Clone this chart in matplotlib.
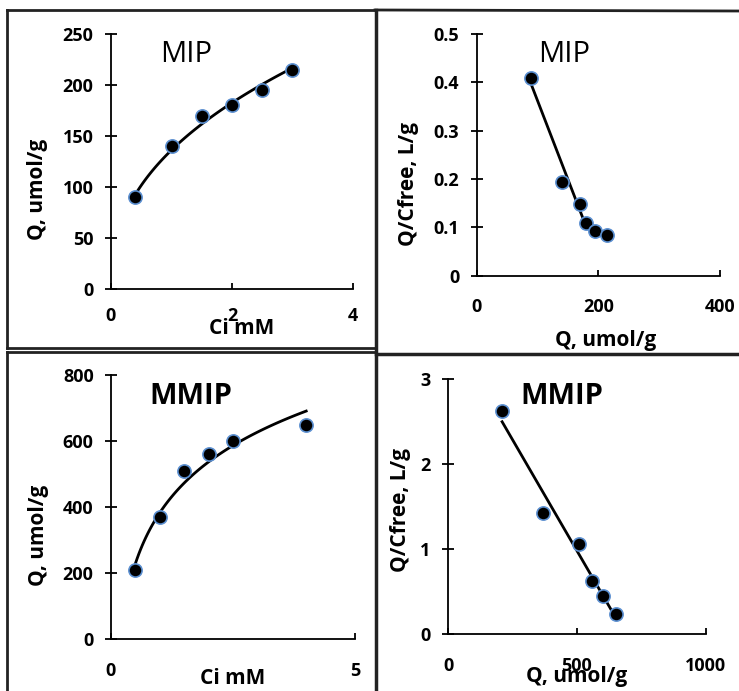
import numpy as np
import matplotlib
matplotlib.use("Agg")
import matplotlib.pyplot as plt
from matplotlib.lines import Line2D

plt.rcParams['font.family'] = ['Open Sans', 'DejaVu Sans']

# data
mip_ci = [0.4, 1.0, 1.5, 2.0, 2.5, 3.0]
mip_q = [90, 140, 170, 180, 195, 215]
mip_qc = [0.41, 0.194, 0.148, 0.110, 0.093, 0.084]

mmip_ci = [0.5, 1.0, 1.5, 2.0, 2.5, 4.0]
mmip_q = [210, 370, 510, 560, 600, 650]
mmip_qc = [2.62, 1.42, 1.06, 0.63, 0.454, 0.239]

W, H = 739, 691
fig = plt.figure(figsize=(W / 100, H / 100), dpi=100)

TICK_FS = 13
LAB_FS = 15


def px(l, t, r, b):
    # pixel box -> figure fraction rect
    return [l / W, 1 - b / H, (r - l) / W, (b - t) / H]


def style(ax, xlim, xticks, ylim, yticks, pad, ylabels=None):
    ax.set_xlim(*xlim)
    ax.set_ylim(*ylim)
    ax.set_xticks(xticks)
    ax.set_yticks(yticks)
    if ylabels is not None:
        ax.set_yticklabels(ylabels)
    for s in ['top', 'right']:
        ax.spines[s].set_visible(False)
    for s in ['left', 'bottom']:
        ax.spines[s].set_linewidth(1.3)
        ax.spines[s].set_clip_on(False)
    ax.tick_params(axis='y', direction='inout', length=9, width=1.3, pad=8)
    ax.tick_params(axis='x', direction='in', length=4, width=1.3, pad=pad)
    for lab in ax.get_xticklabels() + ax.get_yticklabels():
        lab.set_fontweight('bold')
        lab.set_fontsize(TICK_FS)


def dots(ax, x, y):
    ax.plot(x, y, 'o', color='black', markersize=9.5, markeredgecolor='#5b8fd0',
            markeredgewidth=1.2, zorder=3, clip_on=False)


def labels(ax, xl, xc, yl, yc):
    ax.set_xlabel(xl, fontsize=LAB_FS, fontweight='bold')
    ax.xaxis.set_label_coords(*xc)
    ax.set_ylabel(yl, fontsize=LAB_FS, fontweight='bold')
    ax.yaxis.set_label_coords(*yc)


# top left: MIP isotherm
ax1 = fig.add_axes(px(111, 34, 353, 289))
style(ax1, (0, 4), [0, 2, 4], (0, 250), [0, 50, 100, 150, 200, 250], 13)
n, lnk = np.polyfit(np.log(mip_ci), np.log(mip_q), 1)
xs = np.linspace(min(mip_ci), max(mip_ci), 100)
ax1.plot(xs, np.exp(lnk) * xs ** n, color='black', lw=2)
dots(ax1, mip_ci, mip_q)
ax1.text(0.31, 0.92, 'MIP', transform=ax1.transAxes, fontsize=21, ha='center', va='center')
labels(ax1, 'Ci mM', (0.54, -0.115), 'Q, umol/g', (-0.26, 0.39))

# top right: MIP Scatchard
ax2 = fig.add_axes(px(476.7, 34, 720, 275.7))
style(ax2, (0, 400), [0, 200, 400], (0, 0.5), [0, 0.1, 0.2, 0.3, 0.4, 0.5], 16,
      ['0', '0.1', '0.2', '0.3', '0.4', '0.5'])
m, c = np.polyfit(mip_q[:4], mip_qc[:4], 1)
xs = np.array([mip_q[0], mip_q[3] - 6])
ax2.plot(xs, m * xs + c, color='black', lw=2)
dots(ax2, mip_q, mip_qc)
ax2.text(0.36, 0.917, 'MIP', transform=ax2.transAxes, fontsize=21, ha='center', va='center')
labels(ax2, 'Q, umol/g', (0.53, -0.225), 'Q/Cfree, L/g', (-0.237, 0.38))

# bottom left: MMIP isotherm
ax3 = fig.add_axes(px(111, 375, 355, 639.3))
style(ax3, (0, 5), [0, 5], (0, 800), [0, 200, 400, 600, 800], 16)
b, a = np.polyfit(np.log(mmip_ci), mmip_q, 1)
xs = np.linspace(min(mmip_ci), max(mmip_ci), 100)
ax3.plot(xs, a + b * np.log(xs), color='black', lw=2)
dots(ax3, mmip_ci, mmip_q)
ax3.text(0.328, 0.92, 'MMIP', transform=ax3.transAxes, fontsize=21, fontweight='bold',
         ha='center', va='center')
labels(ax3, 'Ci mM', (0.50, -0.11), 'Q, umol/g', (-0.254, 0.395))

# bottom right: MMIP Scatchard
ax4 = fig.add_axes(px(448, 379, 705.7, 634.3))
style(ax4, (0, 1000), [0, 500, 1000], (0, 3), [0, 1, 2, 3], 16)
m, c = np.polyfit(mmip_q, mmip_qc, 1)
xs = np.array([min(mmip_q), max(mmip_q)])
ax4.plot(xs, m * xs + c, color='black', lw=2)
dots(ax4, mmip_q, mmip_qc)
ax4.text(0.442, 0.93, 'MMIP', transform=ax4.transAxes, fontsize=21, fontweight='bold',
         ha='center', va='center')
labels(ax4, 'Q, umol/g', (0.50, -0.125), 'Q/Cfree, L/g', (-0.144, 0.487))


# panel frames
def seg(x0, y0, x1, y1, lw=2.0):
    fig.add_artist(Line2D([x0 / W, x1 / W], [1 - y0 / H, 1 - y1 / H],
                          color='#222222', lw=lw, transform=fig.transFigure))


seg(7, 10, 375, 10)
seg(7, 10, 7, 348)
seg(7, 348, 375, 348)
seg(375, 10, 739, 11)
seg(376, 10, 376, 691, lw=2.5)
seg(7, 352, 376, 352)
seg(7, 352, 7, 691)
seg(376, 353.5, 739, 353.5, lw=2.5)

fig.savefig('out.png', dpi=100)
